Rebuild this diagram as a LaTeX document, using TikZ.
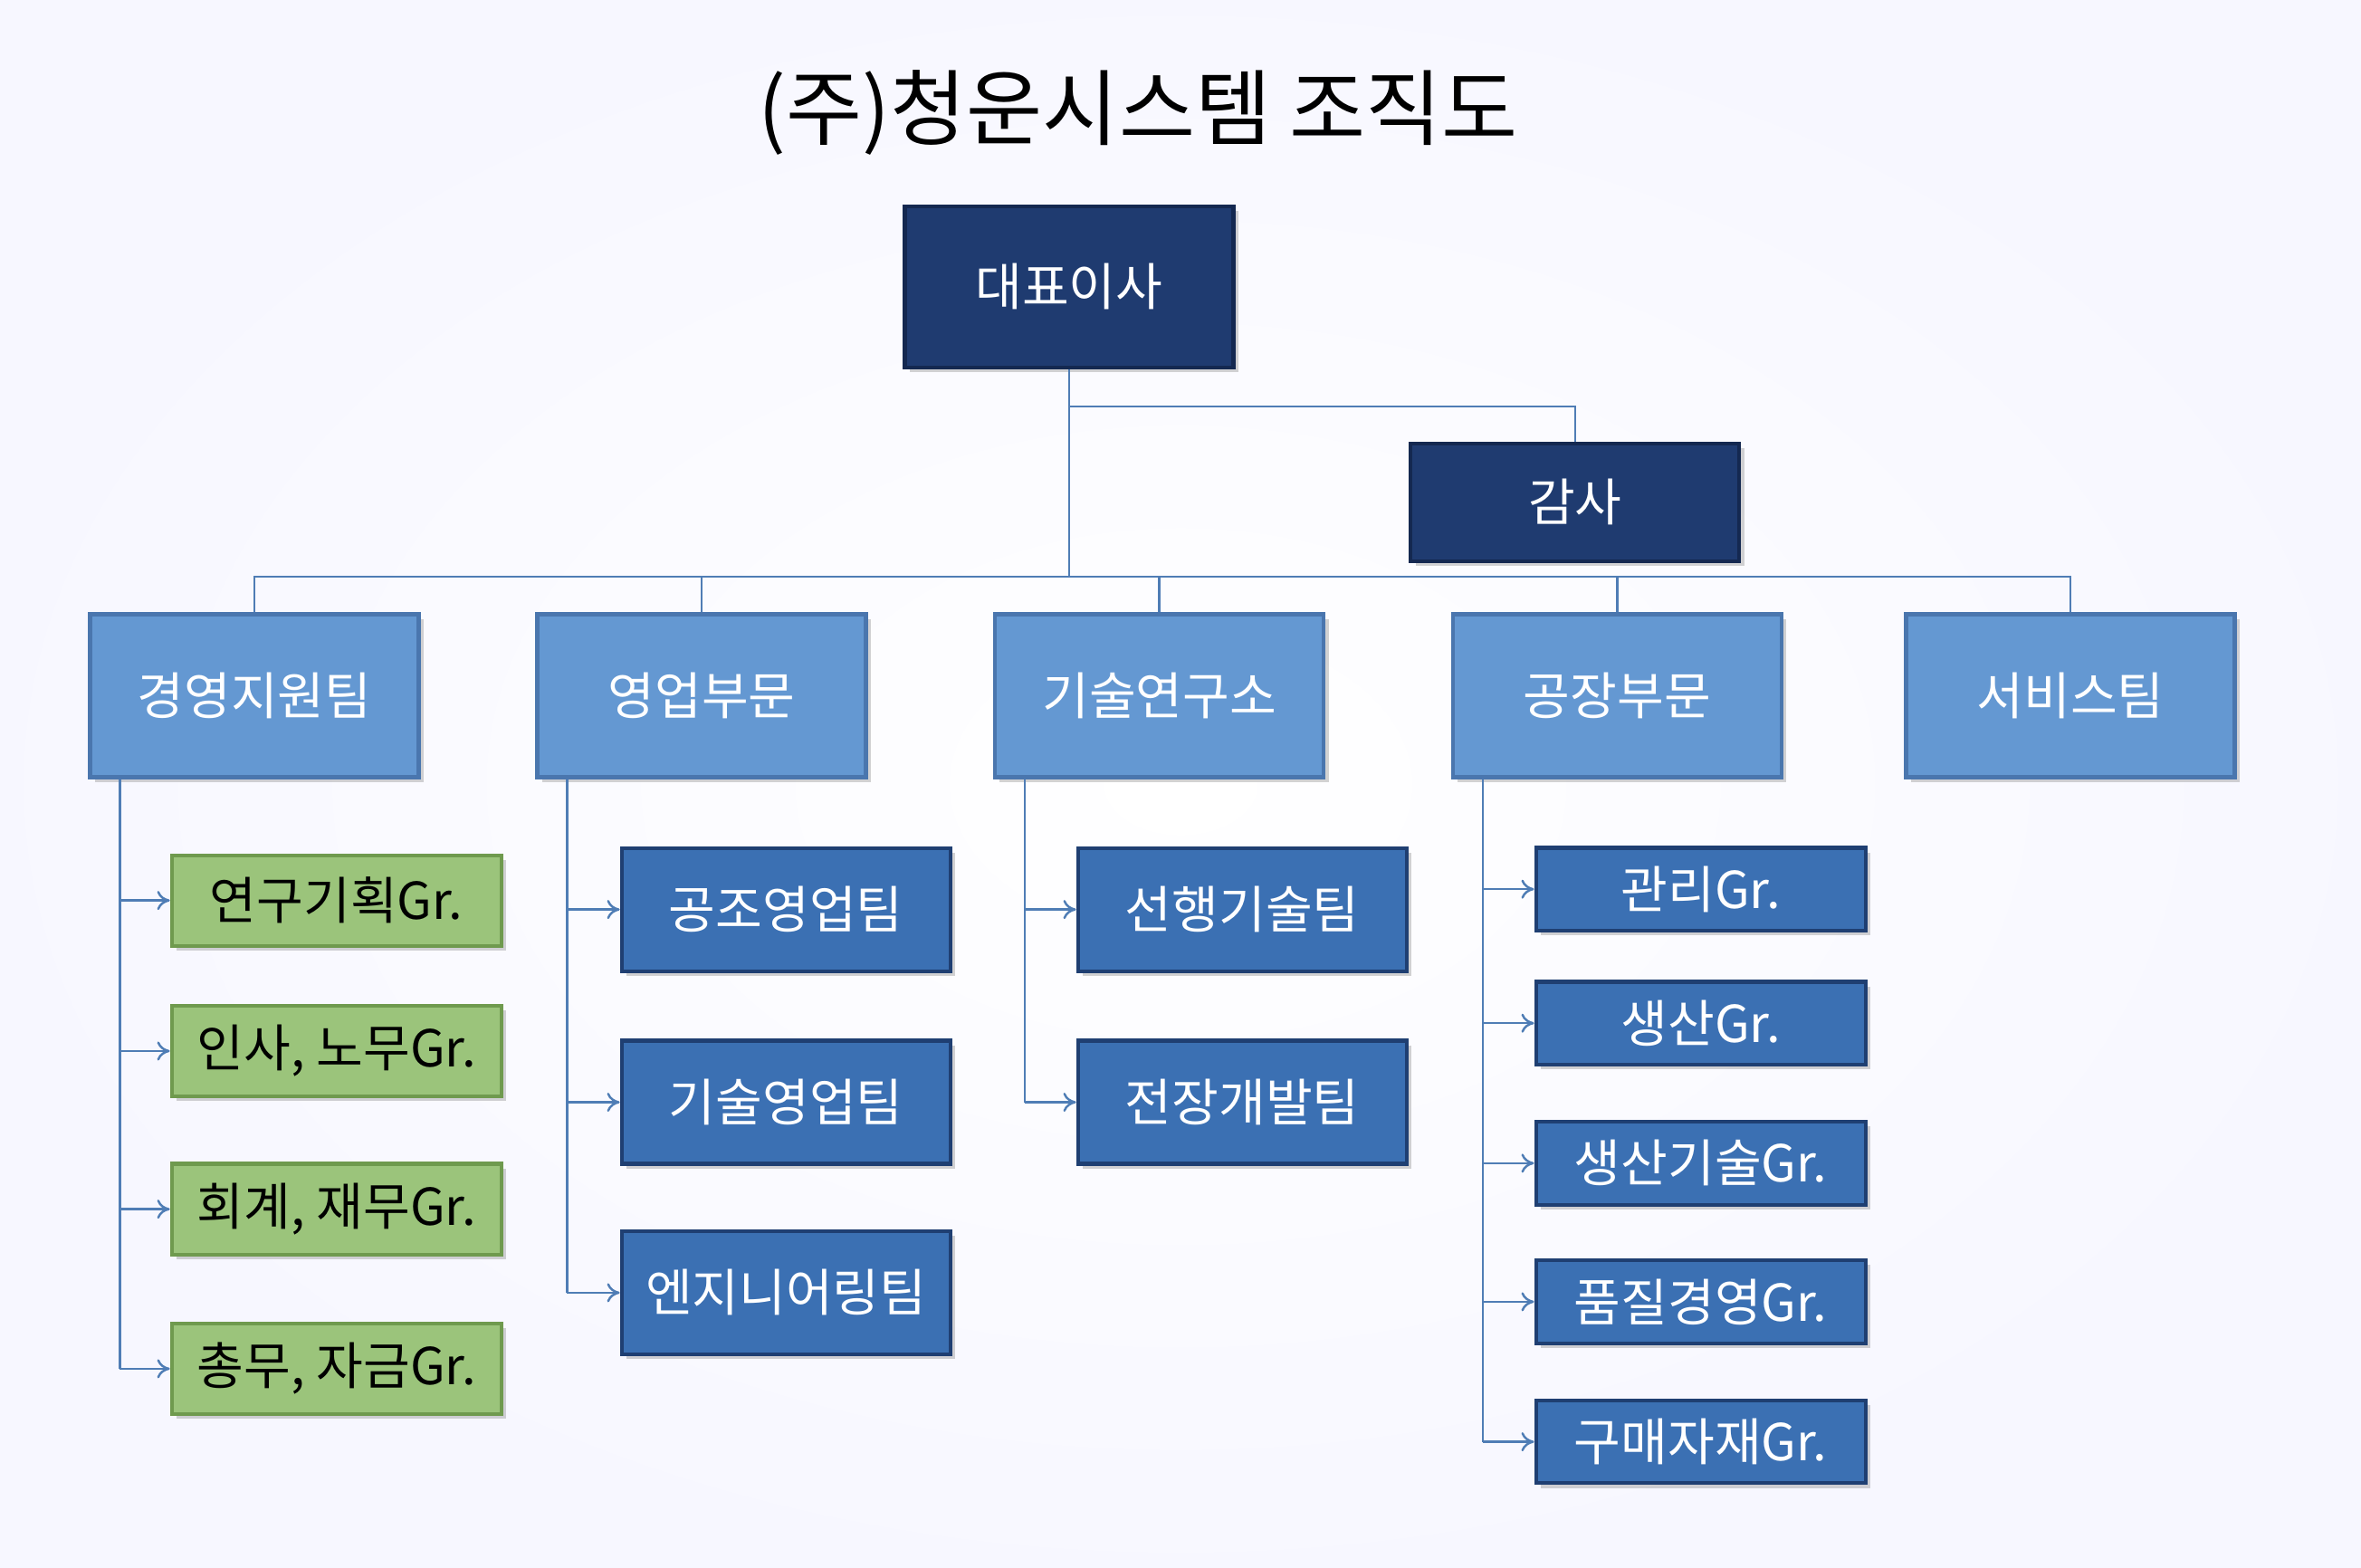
\documentclass[tikz,border=0pt]{standalone}
\usepackage{fontspec}
\setmainfont{Noto Sans CJK KR}
\usetikzlibrary{shadows,arrows.meta}
\definecolor{navy}{HTML}{1F3B70}
\definecolor{navyb}{HTML}{142850}
\definecolor{lblue}{HTML}{6498D2}
\definecolor{lblueb}{HTML}{4A76AE}
\definecolor{mblue}{HTML}{3B70B3}
\definecolor{mblueb}{HTML}{1F3F72}
\definecolor{green1}{HTML}{9BC47B}
\definecolor{greenb}{HTML}{6F9A4E}
\definecolor{linec}{HTML}{4F7DB5}
\begin{document}
\begin{tikzpicture}[x=0.016633cm,y=-0.016633cm,
 box/.style={draw,line width=1.2pt,inner sep=0pt,drop shadow={shadow xshift=1.5pt,shadow yshift=-1.5pt,opacity=0.35}},
 top/.style={box,fill=navy,draw=navyb,text=white,minimum width=3.63cm,minimum height=1.78cm,font=\fontsize{16}{19}\selectfont},
 lvl/.style={box,fill=lblue,draw=lblueb,text=white,minimum width=3.63cm,minimum height=1.8cm,font=\fontsize{16}{19}\selectfont},
 sub/.style={box,fill=mblue,draw=mblueb,text=white,minimum width=3.63cm,minimum height=1.36cm,font=\fontsize{16}{19}\selectfont},
 fac/.style={box,fill=mblue,draw=mblueb,text=white,minimum width=3.64cm,minimum height=0.915cm,font=\fontsize{16}{19}\selectfont},
 grn/.style={box,fill=green1,draw=greenb,text=black,minimum width=3.64cm,minimum height=1.0cm,font=\fontsize{16}{19}\selectfont},
 ln/.style={draw=linec,line width=0.7pt},
 ar/.style={ln,-{To[length=4pt,width=6pt]}}]
\shade[inner color=white,outer color=black!4!blue!3!white] (0,0) rectangle (1568,1041);
\useasboundingbox (0,0) rectangle (1568,1041);
\node (title) at (756,75) {\fontsize{26}{31}\selectfont (주)청운시스템 조직도};
\node[top] (ceo) at (710,190.5) {대표이사};
\node[top,minimum height=1.3cm] (audit) at (1046,333.5) {감사};
\node[lvl] (l1) at (169,462) {경영지원팀};
\node[lvl] (l2) at (466,462) {영업부문};
\node[lvl] (l3) at (770,462) {기술연구소};
\node[lvl] (l4) at (1074,462) {공장부문};
\node[lvl] (l5) at (1375,462) {서비스팀};
\node[grn] (g1) at (223.5,598) {연구기획Gr.};
\node[grn] (g2) at (223.5,698) {인사, 노무Gr.};
\node[grn] (g3) at (223.5,803) {회계, 재무Gr.};
\node[grn] (g4) at (223.5,909) {총무, 자금Gr.};
\node[sub] (s1) at (522,604) {공조영업팀};
\node[sub] (s2) at (522,732) {기술영업팀};
\node[sub] (s3) at (522,858.5) {엔지니어링팀};
\node[sub] (t1) at (825,604) {선행기술팀};
\node[sub] (t2) at (825,732) {전장개발팀};
\node[fac] (f1) at (1129.5,590.5) {관리Gr.};
\node[fac] (f2) at (1129.5,679.5) {생산Gr.};
\node[fac] (f3) at (1129.5,772.5) {생산기술Gr.};
\node[fac] (f4) at (1129.5,864.5) {품질경영Gr.};
\node[fac] (f5) at (1129.5,957.5) {구매자재Gr.};
\coordinate (bus) at (710,383);
\draw[ln] (ceo.south) -- (bus);
\draw[ln] (ceo.south |- 0,270) -| (audit.north);
\draw[ln] (l1.north) |- (bus) -| (l5.north);
\foreach \n in {l2,l3,l4} \draw[ln] (\n.north) -- (\n.north |- bus);
\foreach \p/\last/\list in {l1/g4/{g1,g2,g3,g4},l2/s3/{s1,s2,s3},l3/t2/{t1,t2},l4/f5/{f1,f2,f3,f4,f5}}{
  \coordinate (\p v) at ([xshift=0.35cm]\p.south west);
  \draw[ln] (\p v) -- (\p v |- \last.west);
  \foreach \c in \list \draw[ar] (\p v |- \c.west) -- (\c.west);
}
\end{tikzpicture}
\end{document}
